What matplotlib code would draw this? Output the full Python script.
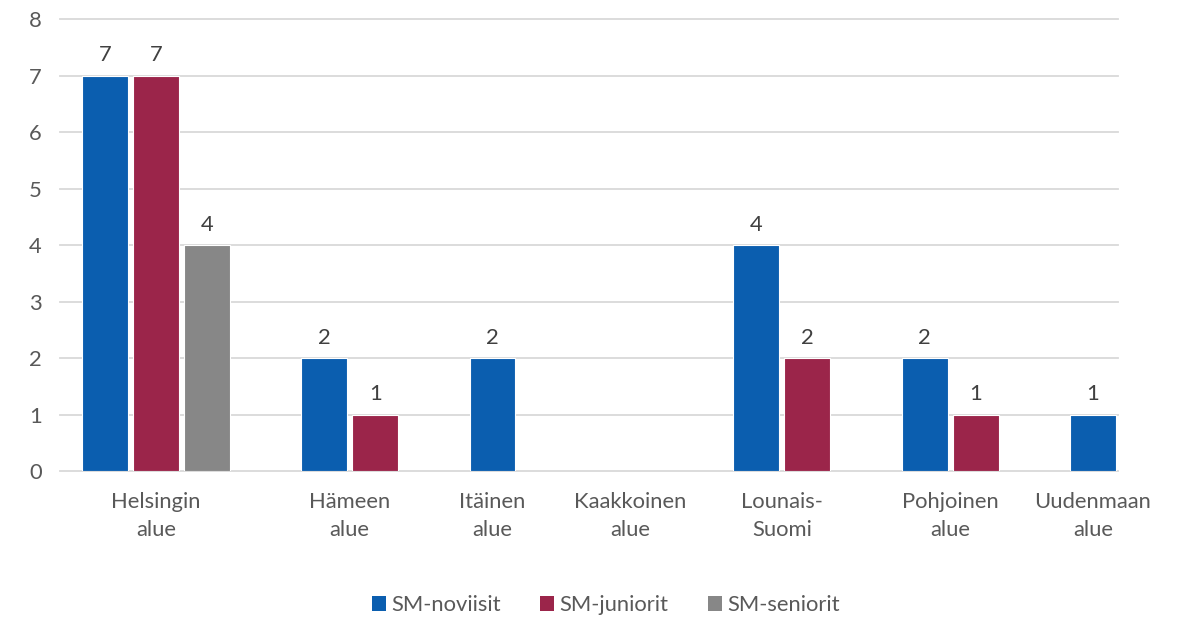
import matplotlib
matplotlib.use('Agg')
import matplotlib.pyplot as plt
from matplotlib.patches import Patch

plt.rcParams['font.family'] = ['Lato', 'DejaVu Sans']

# data
categories = ['Helsingin\nalue', 'Hämeen\nalue', 'Itäinen\nalue', 'Kaakkoinen\nalue',
              'Lounais-\nSuomi', 'Pohjoinen\nalue', 'Uudenmaan\nalue']
series = ['SM-noviisit', 'SM-juniorit', 'SM-seniorit']
noviisit = [7, 2, 2, 0, 4, 2, 1]
juniorit = [7, 1, 0, 0, 2, 1, 0]
seniorit = [4, 0, 0, 0, 0, 0, 0]
colors = ['#0b5eaf', '#9b254a', '#878787']

values = [noviisit, juniorit, seniorit]
text_col = '#595959'
fs = 15.8

fig = plt.figure(figsize=(11.88, 6.17), dpi=100)
ax = fig.add_axes([0.0505, 0.2366, 0.8905, 0.7326])

# zero values are left out, each group is only as wide as its bars
gap = 2.3
empty_w = 0.8
x = None
centers = []
for i, cat in enumerate(categories):
    vals = [v[i] for v in values]
    nz = [j for j, v in enumerate(vals) if v > 0]
    start = 0.0 if x is None else x + gap
    if not nz:
        centers.append(start + empty_w / 2)
        x = start + empty_w - 0.23
        continue
    xs = [start + k for k in range(len(nz))]
    for xp, j in zip(xs, nz):
        ax.bar(xp, vals[j], width=0.9, color=colors[j], edgecolor='white', linewidth=0.8, zorder=3)
        ax.text(xp, vals[j] + 0.18, str(vals[j]), ha='center', va='bottom', fontsize=fs, color='#404040')
    x = xs[-1]
    centers.append(sum(xs) / len(xs))

ax.set_xlim(-0.88, 19.86)
ax.set_ylim(0, 8)
ax.set_yticks(range(0, 9))
ax.yaxis.grid(True, color='#d9d9d9', linewidth=1.3, zorder=0)
for gl in ax.get_ygridlines():
    gl.set_clip_on(False)
ax.set_xticks(centers)
ax.set_xticklabels(categories, linespacing=1.5)
ax.tick_params(axis='both', length=0, labelsize=fs, labelcolor=text_col)
ax.tick_params(axis='y', pad=13)
ax.tick_params(axis='x', pad=15)
for s in ax.spines.values():
    s.set_visible(False)

handles = [Patch(facecolor=c, edgecolor='none') for c in colors]
fig.legend(handles, series, loc='center', bbox_to_anchor=(0.51, 0.019), ncol=3, frameon=False,
           fontsize=fs, labelcolor=text_col, handlelength=0.62, handleheight=0.62,
           handletextpad=0.25, columnspacing=1.8)

plt.savefig('out.png', dpi=100)
